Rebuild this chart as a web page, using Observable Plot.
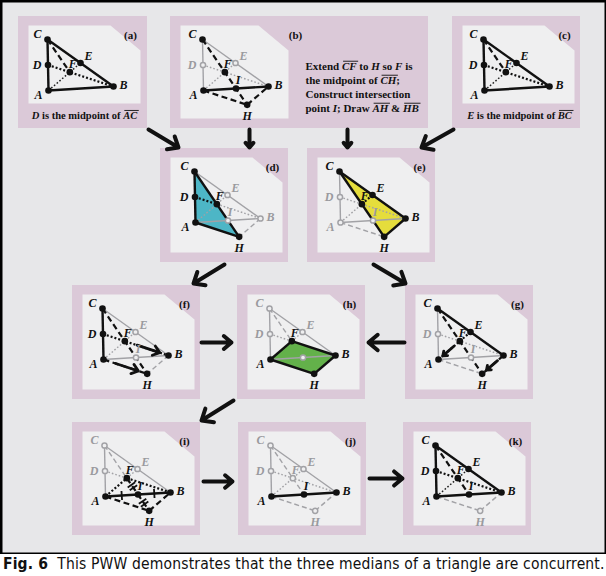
<!DOCTYPE html>
<html><head><meta charset="utf-8">
<script src="https://cdn.jsdelivr.net/npm/d3@7"></script>
<script src="https://cdn.jsdelivr.net/npm/@observablehq/plot@0.6"></script>
<style>
body{margin:0;background:#fff;}
#fig{width:606px;}
#fig svg{display:block;}
#cap{font-family:"DejaVu Sans Condensed","DejaVu Sans",sans-serif;font-stretch:condensed;font-size:15.5px;letter-spacing:0.16px;line-height:20px;color:#111;padding-left:3px;white-space:nowrap;}
</style></head><body><div id="fig"></div><div id="cap"><b>Fig. 6</b>&nbsp; This PWW demonstrates that the three medians of a triangle are concurrent.</div>
<script>
const BG="#e7e7e9", PINK="#dbc9d8", WHITE="#efeff0", GRAY="#a2a2a6", INK="#111";

// panels
const panelIds=["a","b","c","d","e","f","h","g","i","j","k"];
const panelX=[18,170,452,160,307,72,237,405,72,238,403];
const panelY=[16,16,16,148,148,285,285,285,422,422,422];
const panelW=[129,258,128,128,128,128,128,128,128,128,128];
const panelH=[112,112,112,114,114,114,114,114,113,113,113];

// base triangle (panel units)
const vertexNames=["A","B","C"];
const vertexX=[33,98,32];
const vertexY=[74,70,23];

// per-panel construction
const panelSegments={
 a:["AC s","CB s","AB s","CF k","DB d","AE e"],
 b:["AC g","CB g","DB o","AE o","AB s","CH k","AH k","HB k"],
 c:["AC s","CB s","AB s","CF k","DB d","AE e"],
 d:["CB g","AB g","BH q","FB o","AE o","DF d","CA s","AH s","HC s"],
 e:["AC g","AB g","AH q","DF o","AF o","FB o","EF d","CB s","BH s","HC s"],
 f:["CB g","AB g","BH q","AE o","CA s","DB d","CH k","AH k"],
 g:["CA g","AB g","AH q","DB o","CB s","EA d","CH k","BH k"],
 h:["CA g","CB g","CF q","DF o","FE o","AB g","AF s","FB s","BH s","HA s"],
 i:["CA g","CB g","CF q","DF o","FE o","AF d","FB d","AH k","HB k","AB s","FH k"],
 j:["CA g","CB g","CF q","DB o","AE o","AH q","HB q","FI q","AB s"],
 k:["AH q","HB q","AC s","CB s","AB s","CI k","DB d","AE e"]
};
const panelBlackPoints={a:"ABCDEF",b:"ABCFIH",c:"ABCDEF",d:"CDFAH",e:"CEFBH",f:"CDAFBH",g:"CEFABH",h:"FABH",i:"ABFHI",j:"ABI",k:"ABCDEFI"};
const panelGrayPoints={a:"",b:"DE",c:"",d:"EBI",e:"DAI",f:"EI",g:"DI",h:"CDEI",i:"CDE",j:"CDEFH",k:"H"};
const fillPanels=["d","e","h"];
const fillShapes=["CAH","CBH","AFBH"];
const fillColors=["#4db6c6","#e5dd3c","#63b14a"];
const motionPanels=["f","f","g","g"];
const motionPairs=["FB","AH","FA","BH"];
const tickPanels=["i","i","i","i"];
const tickPairs=["AI","IB","FI","IH"];
const tickCounts=[1,1,2,2];
const captionA="*D* is the midpoint of {AC}";
const captionC="*E* is the midpoint of {BC}";
const stepLines=["Extend {CF} to *H* so *F* is","the midpoint of {CH};","Construct intersection","point *I*; Draw {AH} & {HB}"];
// flow arrows between panels
const flowX1=[148,249,347,453,224,373,201,404,233,203,369];
const flowY1=[129,129,129,129,264,264,342,342,400,481,478];
const flowX2=[178,249,347,421,193,405,231,368,201,232,402];
const flowY2=[147,147,147,147,283,283,342,342,420,481,478];

// ---- geometry
const pts={};
vertexNames.forEach((n,i)=>pts[n]=[vertexX[i],vertexY[i]]);
const mid=(p,q)=>[(p[0]+q[0])/2,(p[1]+q[1])/2];
pts.D=mid(pts.A,pts.C); pts.E=mid(pts.C,pts.B); pts.I=mid(pts.A,pts.B);
pts.F=[(pts.A[0]+pts.B[0]+pts.C[0])/3,(pts.A[1]+pts.B[1]+pts.C[1])/3];
pts.H=[2*pts.F[0]-pts.C[0],2*pts.F[1]-pts.C[1]];

const panels=panelIds.map((id,i)=>({id,x:panelX[i],y:panelY[i],w:panelW[i],h:panelH[i]}));
const byId=Object.fromEntries(panels.map(p=>[p.id,p]));
const shiftX={a:-3,c:-1,d:2,f:-2};
const at=(id,n)=>[byId[id].x+(shiftX[id]||0)+pts[n][0],byId[id].y+pts[n][1]];
const lerp=(p,q,t)=>[p[0]+(q[0]-p[0])*t,p[1]+(q[1]-p[1])*t];

const whitePts=panels.flatMap(p=>{
  const right=p.id==="b"?118:122;
  const bottom=(p.id==="a"||p.id==="c")?87:p.h-10;
  return [[10,9],[right-30,9],[right,34],[right,bottom],[10,bottom]].map(([x,y])=>({id:p.id,x:p.x+x,y:p.y+y}));
});

const fillPts=fillPanels.flatMap((id,i)=>[...fillShapes[i]].map(n=>{const [x,y]=at(id,n);return {id,x,y,color:fillColors[i]};}));

const segs=[];
for(const id of panelIds) for(const s of panelSegments[id]){
  const [pair,st]=s.split(" ");
  const [x1,y1]=at(id,pair[0]),[x2,y2]=at(id,pair[1]);
  segs.push({id,st,x1,y1,x2,y2});
}
const motion=motionPanels.map((id,i)=>{
  const p=at(id,motionPairs[i][0]),q=at(id,motionPairs[i][1]);
  const s=lerp(p,q,0.28),e=lerp(p,q,0.8);
  return {x1:s[0],y1:s[1],x2:e[0],y2:e[1]};
});
const ticks=[];
tickPanels.forEach((id,i)=>{
  const p=at(id,tickPairs[i][0]),q=at(id,tickPairs[i][1]);
  const dx=q[0]-p[0],dy=q[1]-p[1],L=Math.hypot(dx,dy);
  const ux=dx/L,uy=dy/L,nx=-uy,ny=ux;
  const m=mid(p,q);
  const offs=tickCounts[i]===1?[0]:[-1.8,1.8];
  for(const o of offs){
    const cx=m[0]+ux*o,cy=m[1]+uy*o;
    ticks.push({x1:cx-nx*4.5,y1:cy-ny*4.5,x2:cx+nx*4.5,y2:cy+ny*4.5});
  }
});
const labelOffsets={C:[-10,-5],D:[-11,0],A:[-10,5],B:[10,-1],E:[8,-7],F:[3,-8],H:[0,11],I:[2,-8]};
const blackDots=[],grayDots=[],labels=[];
for(const id of panelIds){
  for(const n of panelBlackPoints[id]){const [x,y]=at(id,n);blackDots.push({x,y});labels.push({x:x+labelOffsets[n][0],y:y+labelOffsets[n][1],t:n,c:INK});}
  for(const n of panelGrayPoints[id]){const [x,y]=at(id,n);grayDots.push({x,y});if(!(id==="h"&&n==="I"))labels.push({x:x+labelOffsets[n][0],y:y+labelOffsets[n][1],t:n,c:"#9a9a9e"});}
}
const tags=panels.map(p=>({x:p.x+(p.id==="b"?125:112),y:p.y+19,t:`(${p.id})`}));
const centerNotes=[{x:byId.a.x+66,y:byId.a.y+99,t:captionA},{x:byId.c.x+67,y:byId.c.y+99,t:captionC}];
const stepNotes=stepLines.map((t,i)=>({x:byId.b.x+135,y:byId.b.y+50+14*i,t}));
const flows=flowX1.map((_,i)=>({x1:flowX1[i],y1:flowY1[i],x2:flowX2[i],y2:flowY2[i]}));

const styles={
 g:{stroke:GRAY,strokeWidth:1.4},
 q:{stroke:GRAY,strokeWidth:1.4,strokeDasharray:"5,3"},
 o:{stroke:GRAY,strokeWidth:1.4,strokeDasharray:"1.6,2"},
 s:{stroke:INK,strokeWidth:2.4},
 k:{stroke:INK,strokeWidth:2.2,strokeDasharray:"6,3.5"},
 d:{stroke:INK,strokeWidth:2.2,strokeDasharray:"2,2"},
 e:{stroke:"#222",strokeWidth:1.5,strokeDasharray:"1.6,2"}
};
const linkMarks=["g","q","o","s","k","d","e"].map(c=>Plot.link(segs.filter(d=>d.st===c),{x1:"x1",y1:"y1",x2:"x2",y2:"y2",...styles[c]}));

const serif='"Liberation Serif","Times New Roman",serif';
const plot=Plot.plot({
  width:606,height:554,margin:0,
  x:{domain:[0,606],range:[0,606],axis:null},
  y:{domain:[0,554],range:[0,554],axis:null},
  color:{type:"identity"},
  marks:[
    Plot.frame({fill:BG,stroke:"#000",strokeWidth:4}),
    Plot.rect(panels,{x1:"x",x2:d=>d.x+d.w,y1:"y",y2:d=>d.y+d.h,fill:PINK}),
    Plot.line(whitePts,{x:"x",y:"y",z:"id",fill:WHITE,stroke:"none",curve:"linear-closed"}),
    Plot.line(fillPts,{x:"x",y:"y",z:"id",fill:"color",stroke:"none",curve:"linear-closed"}),
    ...linkMarks,
    Plot.link(ticks,{x1:"x1",y1:"y1",x2:"x2",y2:"y2",stroke:INK,strokeWidth:1.8}),
    Plot.arrow(motion,{x1:"x1",y1:"y1",x2:"x2",y2:"y2",stroke:INK,strokeWidth:2.8,headLength:7,headAngle:75}),
    Plot.dot(grayDots,{x:"x",y:"y",r:2.6,fill:WHITE,stroke:GRAY,strokeWidth:1.5}),
    Plot.dot(blackDots,{x:"x",y:"y",r:3.3,fill:INK,stroke:"none"}),
    Plot.text(labels,{x:"x",y:"y",text:"t",fill:"c",fontFamily:serif,fontWeight:"bold",fontStyle:"italic",fontSize:12}),
    Plot.text(tags,{x:"x",y:"y",text:"t",fill:INK,fontFamily:serif,fontWeight:"bold",fontSize:11}),
    Plot.text(centerNotes,{x:"x",y:"y",text:"t",textAnchor:"middle",fill:INK,fontFamily:serif,fontWeight:"bold",fontSize:10.5}),
    Plot.text(stepNotes,{x:"x",y:"y",text:"t",textAnchor:"start",fill:INK,fontFamily:serif,fontWeight:"bold",fontSize:11}),
    Plot.arrow(flows,{x1:"x1",y1:"y1",x2:"x2",y2:"y2",stroke:INK,strokeWidth:4,headLength:8,headAngle:80})
  ]
});
// rich text: {..} italic with overbar, *..* italic
const SVGNS="http://www.w3.org/2000/svg";
plot.querySelectorAll("text").forEach(t=>{
  const s=t.textContent;
  if(!/[{*]/.test(s)) return;
  t.textContent="";
  for(const part of s.split(/(\{[^}]*\}|\*[^*]*\*)/)){
    if(!part) continue;
    const ts=document.createElementNS(SVGNS,"tspan");
    if(part[0]==="{"){ts.textContent=part.slice(1,-1);ts.setAttribute("font-style","italic");ts.setAttribute("data-ol","1");}
    else if(part[0]==="*"){ts.textContent=part.slice(1,-1);ts.setAttribute("font-style","italic");}
    else ts.textContent=part;
    t.appendChild(ts);
  }
});
document.getElementById("fig").appendChild(plot);
plot.querySelectorAll("tspan[data-ol]").forEach(ts=>{
  const t=ts.parentNode, n=ts.getNumberOfChars();
  const s=ts.getStartPositionOfChar(0), e=ts.getEndPositionOfChar(n-1);
  const fs=parseFloat(getComputedStyle(t).fontSize)||11;
  const ln=document.createElementNS(SVGNS,"line");
  const y=s.y-0.8*fs;
  ln.setAttribute("x1",s.x+1.2);ln.setAttribute("x2",e.x+1.6);
  ln.setAttribute("y1",y);ln.setAttribute("y2",y);
  ln.setAttribute("stroke",INK);ln.setAttribute("stroke-width","0.9");
  if(t.getAttribute("transform")) ln.setAttribute("transform",t.getAttribute("transform"));
  t.parentNode.appendChild(ln);
});
</script></body></html>
